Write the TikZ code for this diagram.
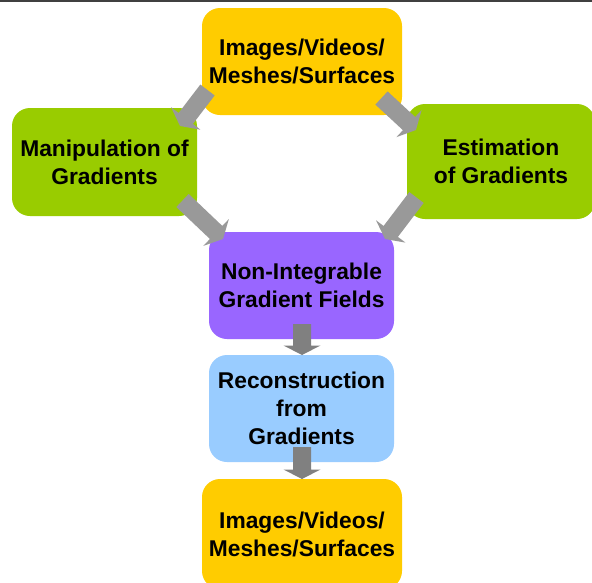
\documentclass[tikz,border=0pt]{standalone}
\usepackage{fontspec}
\setmainfont{Liberation Sans}
\usetikzlibrary{calc}
\definecolor{cyellow}{HTML}{FFCC00}
\definecolor{cgreen}{HTML}{99CC00}
\definecolor{cpurple}{HTML}{9966FF}
\definecolor{cblue}{HTML}{99CCFF}
\definecolor{arrlight}{HTML}{999999}
\definecolor{arrdark}{HTML}{808080}
\newcommand\blockarr[3][arrlight]{%
  \path ($(#3)!9.5pt!(#2)$) coordinate (hb);
  \fill[#1] ($(#2)!9pt!90:(#3)$) -- ($(hb)!9pt!90:(#3)$) -- ($(hb)!18.5pt!90:(#3)$) -- (#3)
    -- ($(hb)!18.5pt!-90:(#3)$) -- ($(hb)!9pt!-90:(#3)$) -- ($(#2)!9pt!-90:(#3)$) -- cycle;}
\tikzset{
  box/.style={rounded corners=18pt, inner sep=0pt, align=center,
    font=\bfseries\fontsize{22.8}{28}\selectfont, text=black},
}
\begin{document}
\begin{tikzpicture}[x=1pt,y=-1pt]
\useasboundingbox (0,0) rectangle (592,582);
\clip (0,0) rectangle (592,582);
\fill[white] (0,0) rectangle (592,582);
\draw[line width=1.5pt, color=black!75] (0,0.75) -- (592,0.75);
% boxes
\node[box, fill=cyellow, minimum width=200pt, minimum height=107pt] (top) at (302,61.5) {Images/Videos/\\Meshes/Surfaces};
\node[box, fill=cgreen, minimum width=185pt, minimum height=108pt] (manip) at (104.5,162) {Manipulation of\\Gradients};
\node[box, fill=cgreen, minimum width=188pt, minimum height=115pt] (estim) at (501,161.5) {Estimation\\of Gradients};
\node[box, fill=cpurple, minimum width=185pt, minimum height=107pt] (nonint) at (301.5,285.5) {Non-Integrable\\Gradient Fields};
\node[box, fill=cblue, minimum width=185pt, minimum height=107pt] (recon) at (301.5,408.5) {Reconstruction\\from\\Gradients};
\node[box, fill=cyellow, minimum width=200pt, minimum height=110pt] (bottom) at (302,534) {Images/Videos/\\Meshes/Surfaces};
% arrow end points
\coordinate (a1s) at (207.5,90);   \coordinate (a1t) at (180,126);
\coordinate (a2s) at (381.5,98);   \coordinate (a2t) at (416,130);
\coordinate (a3s) at (182.5,200.5);\coordinate (a3t) at (223,239);
\coordinate (a4s) at (416.5,197.5);\coordinate (a4t) at (385,239);
\coordinate (a5s) at (302,324);    \coordinate (a5t) at (302,355);
\coordinate (a6s) at (302,447);    \coordinate (a6t) at (302,479);
\blockarr{a1s}{a1t}
\blockarr{a2s}{a2t}
\blockarr{a3s}{a3t}
\blockarr{a4s}{a4t}
\blockarr[arrdark]{a5s}{a5t}
\blockarr[arrdark]{a6s}{a6t}
\end{tikzpicture}
\end{document}
